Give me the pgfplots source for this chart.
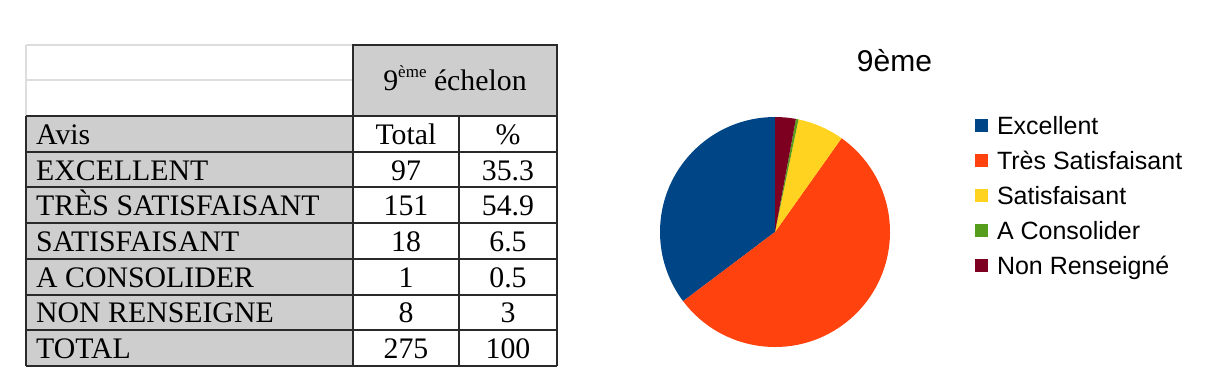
\documentclass[border=0pt]{standalone}
\usepackage{fontspec}
\setmainfont{Liberation Serif}
\newfontfamily\chartfont{Liberation Sans}
\usepackage{pgfplots}
\pgfplotsset{compat=1.18}
\usepackage{pgfplotstable}
\definecolor{cExc}{HTML}{004586}
\definecolor{cTres}{HTML}{FF420E}
\definecolor{cSat}{HTML}{FFD320}
\definecolor{cCons}{HTML}{579D1C}
\definecolor{cNon}{HTML}{7E0021}
\definecolor{tgray}{HTML}{CFCECE}
\definecolor{lgray}{HTML}{DDDDDD}
\definecolor{tline}{HTML}{2A2A2A}

\pgfplotstableread[col sep=comma]{
label,count
Excellent,97
TresSatisfaisant,151
Satisfaisant,18
AConsolider,1
NonRenseigne,8
}\piedata

\pgfplotstablegetelem{0}{count}\of\piedata \pgfmathsetmacro\cA{\pgfplotsretval}
\pgfplotstablegetelem{1}{count}\of\piedata \pgfmathsetmacro\cB{\pgfplotsretval}
\pgfplotstablegetelem{2}{count}\of\piedata \pgfmathsetmacro\cC{\pgfplotsretval}
\pgfplotstablegetelem{3}{count}\of\piedata \pgfmathsetmacro\cD{\pgfplotsretval}
\pgfplotstablegetelem{4}{count}\of\piedata \pgfmathsetmacro\cE{\pgfplotsretval}
\pgfmathsetmacro\sumc{\cA+\cB+\cC+\cD+\cE}
\pgfmathsetmacro\aA{90}
\pgfmathsetmacro\aB{\aA+360*(\cA/\sumc)}
\pgfmathsetmacro\aC{\aB+360*(\cB/\sumc)}
\pgfmathsetmacro\aD{\aC+360*(\cC/\sumc)}
\pgfmathsetmacro\aE{\aD+360*(\cD/\sumc)}
\pgfmathsetmacro\aF{\aE+360*(\cE/\sumc)}

\newcommand\tfont{\fontsize{29.8bp}{34bp}\selectfont}

\begin{document}
\begin{tikzpicture}
\useasboundingbox (0,0) rectangle (1223bp,-392bp);
\begin{scope}[x=1bp,y=-1bp]
  % fills
  \fill[tgray] (26,116) rectangle (353,366);
  \fill[tgray] (353,45) rectangle (557,116);
  % light lines of empty top-left cells
  \draw[lgray, line width=1.5bp] (26,45) -- (353,45);
  \draw[lgray, line width=1.5bp] (26,80) -- (353,80);
  \draw[lgray, line width=1.5bp] (26,45) -- (26,116);
  % dark lines
  \begin{scope}[tline, line width=1.4bp]
    \draw (353,45) rectangle (557,116);
    \foreach \yy in {116,152,187,223,259,295,330,366} \draw (26,\yy) -- (557,\yy);
    \foreach \xx in {26,353,459,557} \draw (\xx,116) -- (\xx,366);
  \end{scope}
  % header
  \node[anchor=base, inner sep=0, font=\tfont] at (455,90) {9\raisebox{0.42em}{\fontsize{17bp}{17bp}\selectfont ème} échelon};
  % rows
  \foreach \lab/\tv/\pc/\yy in {Avis/Total/\%/144, EXCELLENT/97/35.3/180, TRÈS SATISFAISANT/151/54.9/215, SATISFAISANT/18/6.5/251, A CONSOLIDER/1/0.5/287, NON RENSEIGNE/8/3/322, TOTAL/275/100/358}{
    \node[anchor=base west, inner sep=0, font=\tfont] at (36,\yy) {\lab};
    \node[anchor=base, inner sep=0, font=\tfont] at (406,\yy) {\tv};
    \node[anchor=base, inner sep=0, font=\tfont] at (508,\yy) {\pc};
  }
\end{scope}

\begin{axis}[
  at={(775bp,-232bp)}, anchor=center,
  hide axis,
  x=115bp, y=115bp,
  xmin=-1, xmax=1, ymin=-1, ymax=1,
  clip=false,
  title={9ème},
  title style={font=\chartfont\fontsize{30bp}{35bp}\selectfont, at={(axis description cs:1.0196,1.174)}, anchor=base, inner sep=0pt},
  legend image code/.code={\fill[#1] (0bp,-4bp) rectangle (13bp,9bp);},
  legend cell align=left,
  legend style={at={(axis description cs:1.3696,1.004)}, anchor=north west, draw=none, fill=none,
    inner sep=0pt, outer sep=0pt, row sep=12bp, column sep=9bp,
    font=\chartfont\fontsize{25bp}{30bp}\selectfont,
    nodes={inner sep=0pt, outer sep=0pt, text height=18bp, text depth=5bp}},
]
\fill[cExc] (axis cs:0,0) -- ++(\aA:115bp) arc[start angle=\aA, end angle=\aB, radius=115bp] -- cycle;
\fill[cTres] (axis cs:0,0) -- ++(\aB:115bp) arc[start angle=\aB, end angle=\aC, radius=115bp] -- cycle;
\fill[cSat] (axis cs:0,0) -- ++(\aC:115bp) arc[start angle=\aC, end angle=\aD, radius=115bp] -- cycle;
\fill[cCons] (axis cs:0,0) -- ++(\aD:115bp) arc[start angle=\aD, end angle=\aE, radius=115bp] -- cycle;
\fill[cNon] (axis cs:0,0) -- ++(\aE:115bp) arc[start angle=\aE, end angle=\aF, radius=115bp] -- cycle;
\addlegendimage{fill=cExc, draw=none}
\addlegendentry{Excellent}
\addlegendimage{fill=cTres, draw=none}
\addlegendentry{Très Satisfaisant}
\addlegendimage{fill=cSat, draw=none}
\addlegendentry{Satisfaisant}
\addlegendimage{fill=cCons, draw=none}
\addlegendentry{A Consolider}
\addlegendimage{fill=cNon, draw=none}
\addlegendentry{Non Renseigné}
\end{axis}
\end{tikzpicture}
\end{document}
